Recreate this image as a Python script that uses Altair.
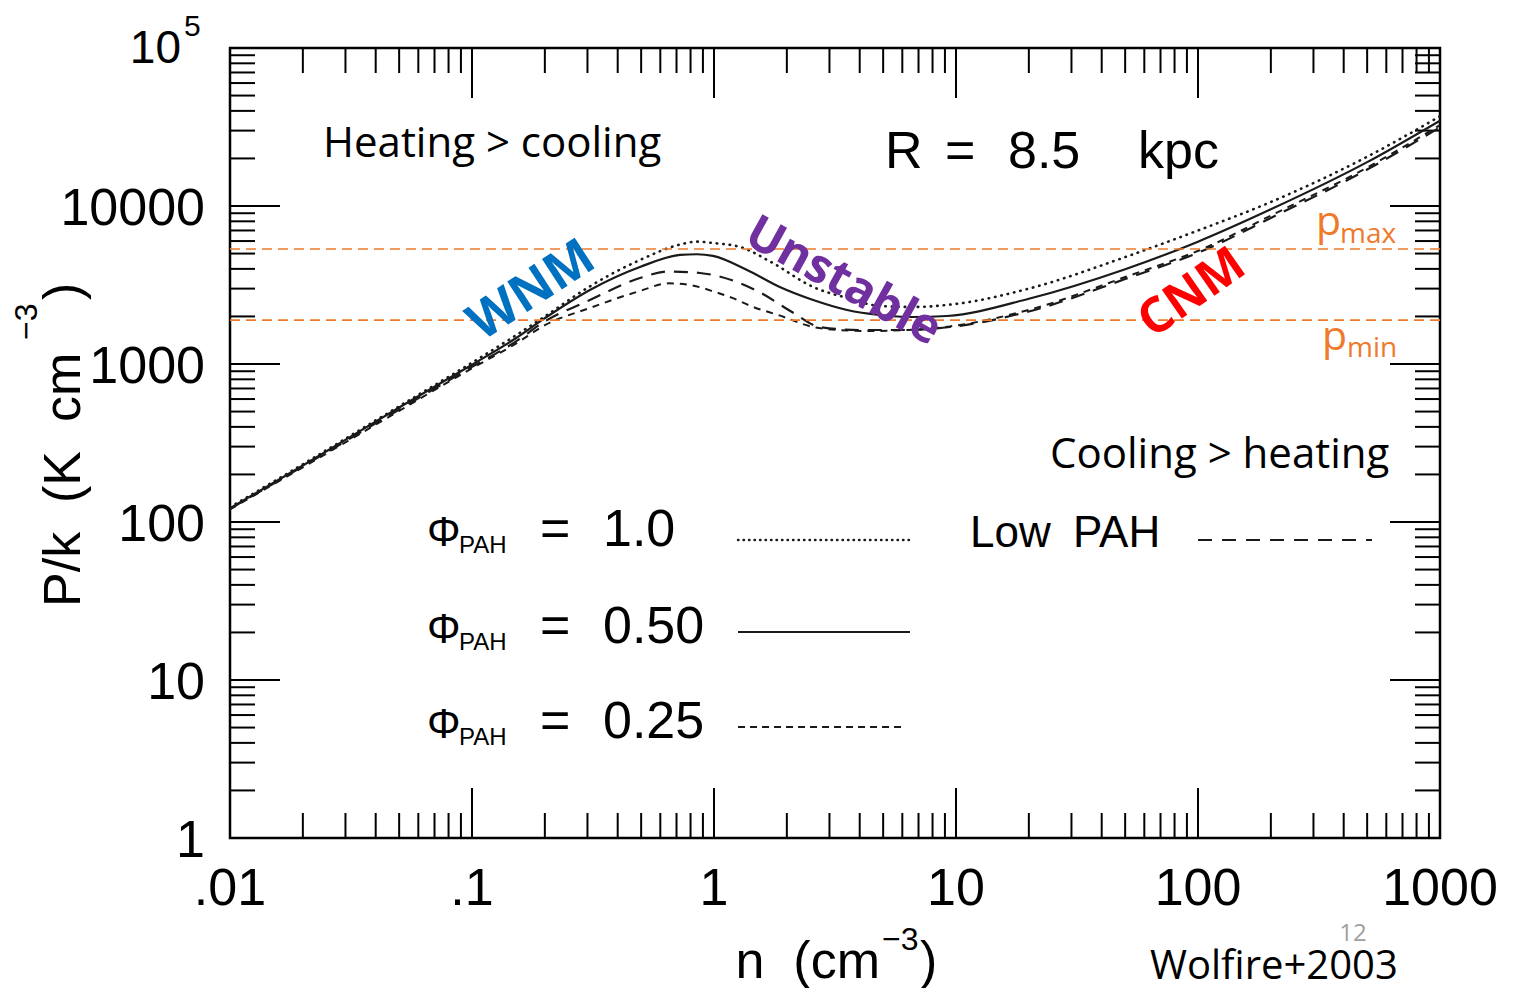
import altair as alt
import pandas as pd

# ---------------- data ----------------
# phi_PAH = 1.0 (dotted)
n_phi10 = [0.01, 0.02, 0.05, 0.1, 0.15, 0.2, 0.307, 0.494, 0.724, 0.85, 0.99, 1.28, 1.75, 2.57, 3.55,
           4.85, 6.64, 10, 20, 50, 100, 200, 500, 1000]
p_phi10 = [124, 232, 540, 1020, 1500, 2000, 3100, 4550, 5700, 5950, 5830, 5505, 4355, 3070, 2620,
           2330, 2296, 2400, 3000, 4750, 7000, 10600, 20500, 37000]
# phi_PAH = 0.50 (solid)
n_phi05 = [0.01, 0.02, 0.05, 0.1, 0.15, 0.2, 0.307, 0.494, 0.724, 0.85, 0.99, 1.37, 1.87, 2.57, 3.55,
           4.85, 6.64, 9.18, 20, 50, 100, 200, 500, 1000]
p_phi05 = [122, 228, 530, 990, 1440, 1950, 2940, 4110, 4900, 4950, 4830, 3935, 3070, 2540, 2197,
           2043, 1983, 2013, 2587, 3979, 5948, 9530, 18950, 34700]
# phi_PAH = 0.25 (short dashes)
n_phi025 = [0.01, 0.02, 0.05, 0.1, 0.15, 0.2, 0.307, 0.494, 0.65, 0.796, 1.01, 1.19, 1.45, 1.84, 2.57,
            3.25, 4.41, 6.28, 9.44, 20, 50, 109, 200, 500, 1000]
p_phi025 = [120, 222, 505, 940, 1330, 1760, 2262, 2897, 3240, 3162, 2857, 2620, 2296, 2043, 1714,
            1641, 1618, 1640, 1730, 2200, 3550, 5500, 8700, 17500, 32500]
# Low PAH (long dashes)
n_low = [0.01, 0.02, 0.05, 0.1, 0.15, 0.2, 0.307, 0.494, 0.65, 0.875, 1.51, 2.10, 2.74, 4.01, 6.28,
         9.44, 20, 50, 109, 200, 500, 1000]
p_low = [121, 225, 515, 960, 1370, 1860, 2540, 3500, 3850, 3767, 2897, 2134, 1714, 1641, 1641,
         1714, 2150, 3450, 5345, 8400, 17000, 31500]

p_lines = [5345, 1897]  # p_max, p_min

x_major = [0.01, 0.1, 1, 10, 100, 1000]
x_labels = [".01", ".1", "1", "10", "100", "1000"]
y_major = [1, 10, 100, 1000, 10000, 100000]
y_labels = ["1", "10", "100", "1000", "10000"]
minor_mult = [2, 3, 4, 5, 6, 7, 8, 9]
x_decades = [0.01, 0.1, 1, 10, 100]
y_decades = [1, 10, 100, 1000, 10000]
x_minor = [m * d for d in x_decades for m in minor_mult]
y_minor = [m * d for d in y_decades for m in minor_mult]

# ---------------- styling ----------------
W, H = 1210, 790
HF = "Liberation Sans"
CF = "Open Sans"
ORANGE = "#EE7A2C"
INK = "#1a1a1a"

xs = alt.Scale(type="log", domain=[0.01, 1000])
ys = alt.Scale(type="log", domain=[1, 100000])


def curve(n, p, dash=None, width=2.2, cap="butt"):
    kw = dict(color=INK, strokeWidth=width, interpolate="monotone", strokeCap=cap, clip=True)
    if dash:
        kw["strokeDash"] = dash
    return alt.Chart(pd.DataFrame({"n": n, "P": p})).mark_line(**kw).encode(
        x=alt.X("n:Q", scale=xs, axis=None),
        y=alt.Y("P:Q", scale=ys, axis=None),
    )


def xticks(vals, y0, y1):
    return alt.Chart(pd.DataFrame({"n": vals})).mark_rule(color="black", strokeWidth=2).encode(
        x=alt.X("n:Q", scale=xs, axis=None), y=alt.value(y0), y2=alt.value(y1))


def yticks(vals, x0, x1):
    return alt.Chart(pd.DataFrame({"P": vals})).mark_rule(color="black", strokeWidth=2).encode(
        y=alt.Y("P:Q", scale=ys, axis=None), x=alt.value(x0), x2=alt.value(x1))


def txt(s, x, y, size, font=HF, color="black", align="left", baseline="alphabetic", angle=0, weight="normal"):
    return alt.Chart(pd.DataFrame({"t": [s]})).mark_text(
        align=align, baseline=baseline, fontSize=size, font=font, color=color,
        angle=angle, fontWeight=weight).encode(x=alt.value(x), y=alt.value(y), text="t:N")


def sample(x0, x1, y, dash=None, cap="butt", width=2.2):
    kw = dict(color=INK, strokeWidth=width, strokeCap=cap)
    if dash:
        kw["strokeDash"] = dash
    return alt.Chart(pd.DataFrame({"a": [0]})).mark_rule(**kw).encode(
        x=alt.value(x0), x2=alt.value(x1), y=alt.value(y))


MAJ, MIN = 50, 25
layers = [
    xticks(x_major, H, H - MAJ), xticks(x_minor, H, H - MIN),
    xticks(x_major, 0, MAJ), xticks(x_minor, 0, MIN),
    yticks(y_major, 0, MAJ), yticks(y_minor, 0, MIN),
    yticks(y_major, W, W - MAJ), yticks(y_minor, W, W - MIN),
]

# curves
layers += [
    curve(n_phi10, p_phi10, dash=[0.5, 6], width=2.6, cap="round"),
    curve(n_phi05, p_phi05),
    curve(n_phi025, p_phi025, dash=[7, 6], width=2.0),
    curve(n_low, p_low, dash=[14, 9]),
]

# p_max / p_min lines
layers.append(
    alt.Chart(pd.DataFrame({"P": p_lines})).mark_rule(color=ORANGE, strokeWidth=1.7, strokeDash=[10, 6]).encode(
        y=alt.Y("P:Q", scale=ys, axis=None))
)

# tick labels
layers.append(
    alt.Chart(pd.DataFrame({"n": x_major, "lab": x_labels})).mark_text(
        align="center", baseline="alphabetic", fontSize=52, font=HF, color="black").encode(
        x=alt.X("n:Q", scale=xs, axis=None), y=alt.value(857), text="lab:N")
)
layers.append(
    alt.Chart(pd.DataFrame({"P": y_major[:5], "lab": y_labels})).mark_text(
        align="right", baseline="alphabetic", fontSize=52, font=HF, color="black", dy=19).encode(
        y=alt.Y("P:Q", scale=ys, axis=None), x=alt.value(-25), text="lab:N")
)
layers += [
    txt("10", -49, 15, 46, align="right"),
    txt("5", -46, -12, 30),
]

# axis titles
layers += [
    txt("n\u00a0\u00a0(cm", 650, 930, 52, align="right"),
    txt("\u22123", 652, 902, 32),
    txt(")", 690, 930, 52),
    txt("P/k\u00a0\u00a0(K\u00a0\u00a0cm", -150, 559, 52, angle=270),
    txt("\u22123", -193, 292, 32, angle=270),
    txt(")", -150, 252, 52, angle=270),
]

# R label
layers += [
    txt("R", 655, 120, 52),
    txt("=", 715, 120, 52),
    txt("8.5", 778, 120, 52),
    txt("kpc", 908, 120, 52),
]

# legend
rows = [("1.0", 498, 505, 492, [0.5, 5], "round", 2.4, 680),
        ("0.50", 595, 602, 584, None, "butt", 2.2, 680),
        ("0.25", 690, 697, 679, [7, 5], "butt", 2.0, 675)]
for val, base, sub, ly, dash, cap, wd, xend in rows:
    layers += [
        txt("\u03a6", 197, base, 42),
        txt("PAH", 229, sub, 24),
        txt("=", 310, base, 52),
        txt(val, 373, base, 52),
        sample(508, xend, ly, dash=dash, cap=cap, width=wd),
    ]
layers += [
    txt("Low", 740, 499, 44),
    txt("PAH", 843, 499, 44),
    sample(968, 1142, 492, dash=[14, 10]),
]

# Calibri-like annotations
layers += [
    txt("Heating > cooling", 93, 109, 42, font=CF),
    txt("Cooling > heating", 820, 420, 42, font=CF),
    txt("Wolfire+2003", 920, 931, 40, font=CF),
    txt("12", 1123, 893, 24, font=CF, color="#A0A0A0", align="center"),
    txt("WNM", 302, 243, 51, font=CF, color="#0070C0", align="center", baseline="middle", angle=327, weight="bold"),
    txt("Unstable", 613, 234, 48, font=CF, color="#7030A0", align="center", baseline="middle", angle=29, weight="bold"),
    txt("CNM", 962, 245, 49, font=CF, color="#FF0000", align="center", baseline="middle", angle=325, weight="bold"),
    txt("p", 1086, 187, 41, font=CF, color=ORANGE),
    txt("max", 1110, 195, 28, font=CF, color=ORANGE),
    txt("p", 1092, 302, 41, font=CF, color=ORANGE),
    txt("min", 1117, 309, 28, font=CF, color=ORANGE),
]

chart = alt.layer(*layers).properties(
    width=W, height=H,
    autosize=alt.AutoSizeParams(type="none"),
    padding={"left": 222, "top": 40, "right": 73, "bottom": 152},
    background="white",
).configure_view(stroke="black", strokeWidth=2.5)

chart.save("out.html", embed_options={"renderer": "svg", "actions": False})
